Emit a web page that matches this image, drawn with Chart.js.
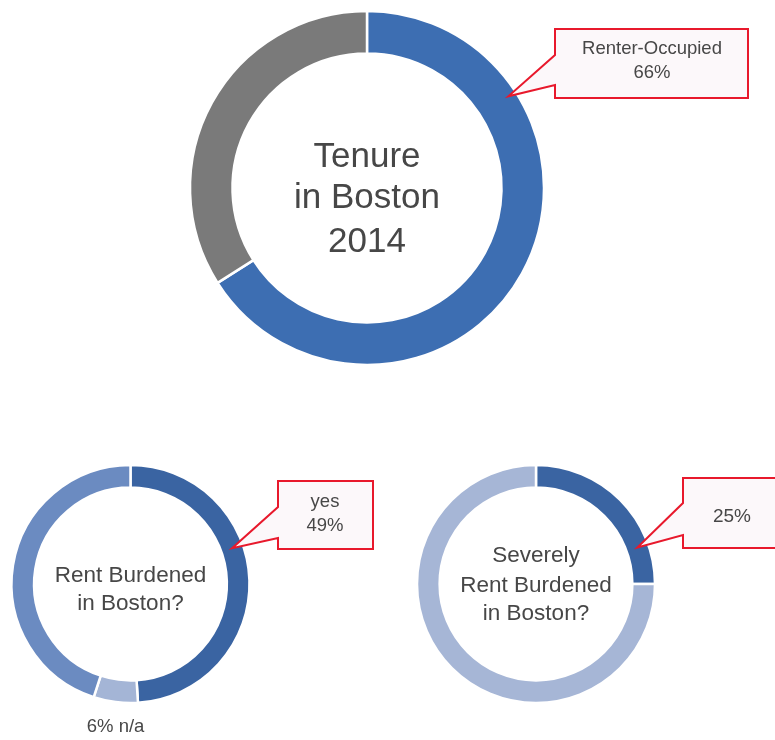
<!DOCTYPE html>
<html>
<head>
<meta charset="utf-8">
<script src="https://cdn.jsdelivr.net/npm/chart.js@4.4.0/dist/chart.umd.min.js"></script>
<style>
  body { margin: 0; background: #fff; }
  #wrap { position: relative; width: 775px; height: 740px; overflow: hidden; background: #fff; }
  #wrap canvas { position: absolute; left: 0; top: 0; }
</style>
</head>
<body>
<div id="wrap">
  <canvas id="c1" width="775" height="740"></canvas>
  <canvas id="c2" width="775" height="740"></canvas>
  <canvas id="c3" width="775" height="740"></canvas>
</div>
<script>
// ---- data ----
const tenureLabels = ['Renter-Occupied', 'Owner-Occupied'];
const tenureValues = [66, 34];
const tenureTitle = ['Tenure', 'in Boston', '2014'];

const burdenLabels = ['yes', 'n/a', 'no'];
const burdenValues = [49, 6, 45];
const burdenTitle = ['Rent Burdened', 'in Boston?'];

const severeLabels = ['yes', 'no'];
const severeValues = [25, 75];
const severeTitle = ['Severely', 'Rent Burdened', 'in Boston?'];

const FONT = '"Liberation Sans", Arial, Helvetica, sans-serif';
const TEXT = '#474747';

function arcPoint(arc, af, rf) {
  const a = arc.startAngle + af * (arc.endAngle - arc.startAngle);
  const r = arc.innerRadius + rf * (arc.outerRadius - arc.innerRadius);
  return { x: arc.x + Math.cos(a) * r, y: arc.y + Math.sin(a) * r };
}

const decor = {
  id: 'decor',
  afterDraw(chart, args, opts) {
    const ctx = chart.ctx;
    const arcs = chart.getDatasetMeta(0).data;
    const cx = arcs[0].x, cy = arcs[0].y;
    ctx.save();
    // centre title
    ctx.fillStyle = TEXT;
    ctx.textAlign = 'center';
    ctx.textBaseline = 'alphabetic';
    ctx.font = opts.titleSize + 'px ' + FONT;
    opts.title.forEach((t, i) => ctx.fillText(t, cx, cy + opts.titleY[i]));
    // callout
    const c = opts.callout;
    if (c) {
      const tip = arcPoint(arcs[c.index], c.af, c.rf);
      const [bx, by, bw, bh] = c.box;
      ctx.beginPath();
      ctx.moveTo(bx, by);
      ctx.lineTo(bx + bw, by);
      ctx.lineTo(bx + bw, by + bh);
      ctx.lineTo(bx, by + bh);
      ctx.lineTo(bx, c.notch[1]);
      ctx.lineTo(tip.x, tip.y);
      ctx.lineTo(bx, c.notch[0]);
      ctx.closePath();
      ctx.fillStyle = '#fcf8fa';
      ctx.fill();
      ctx.strokeStyle = '#e8192c';
      ctx.lineWidth = 2;
      ctx.lineJoin = 'miter';
      ctx.stroke();
      ctx.fillStyle = TEXT;
      ctx.font = c.size + 'px ' + FONT;
      c.lines.forEach((t, i) => ctx.fillText(t, c.tx, c.ty[i]));
    }
    // outside label
    const o = opts.outside;
    if (o) {
      const arc = arcs[o.index];
      const mid = (arc.startAngle + arc.endAngle) / 2;
      const x = arc.x + Math.cos(mid) * arc.outerRadius;
      const y = arc.y + Math.sin(mid) * arc.outerRadius;
      ctx.fillStyle = TEXT;
      ctx.font = o.size + 'px ' + FONT;
      ctx.fillText(o.text, x, y + o.dy);
    }
    ctx.restore();
  }
};

function makeDoughnut(id, labels, values, colors, cx, cy, radius, cutout, decorOpts) {
  const W = 775, H = 740;
  return new Chart(document.getElementById(id), {
    type: 'doughnut',
    data: {
      labels: labels,
      datasets: [{
        data: values,
        backgroundColor: colors,
        borderColor: '#ffffff',
        borderWidth: 2.5,
        hoverOffset: 0
      }]
    },
    options: {
      responsive: false,
      animation: false,
      events: [],
      radius: radius,
      cutout: cutout,
      layout: {
        padding: {
          left: cx - radius - 2,
          right: W - (cx + radius + 2),
          top: cy - radius - 2,
          bottom: H - (cy + radius + 2)
        }
      },
      plugins: {
        legend: { display: false },
        tooltip: { enabled: false },
        decor: decorOpts
      }
    },
    plugins: [decor]
  });
}

makeDoughnut('c1', tenureLabels, tenureValues, ['#3d6eb2', '#7a7a7a'],
  367, 188, 177, '76%', {
    title: tenureTitle, titleSize: 35, titleY: [-21, 20, 64],
    callout: {
      index: 0, af: 0.24, rf: 0.8,
      box: [555, 29, 193, 69], notch: [55, 85],
      lines: [tenureLabels[0], tenureValues[0] + '%'],
      tx: 652, ty: [54, 78], size: 18.5
    }
  });

makeDoughnut('c2', burdenLabels, burdenValues, ['#3a64a2', '#a4b5d6', '#6b8bc1'],
  130.5, 584, 119, '81%', {
    title: burdenTitle, titleSize: 22.5, titleY: [-2, 26],
    callout: {
      index: 0, af: 0.40, rf: 0.5,
      box: [278, 481, 95, 68], notch: [507, 538],
      lines: [burdenLabels[0], burdenValues[0] + '%'],
      tx: 325, ty: [507, 531], size: 18.5
    },
    outside: { index: 1, text: burdenValues[1] + '% ' + burdenLabels[1], size: 18.5, dy: 30 }
  });

makeDoughnut('c3', severeLabels, severeValues, ['#3a64a2', '#a6b6d6'],
  536, 584, 119, '81%', {
    title: severeTitle, titleSize: 22.5, titleY: [-22, 8, 36],
    callout: {
      index: 0, af: 0.78, rf: 0.5,
      box: [683, 478, 120, 70], notch: [503, 535],
      lines: [severeValues[0] + '%'],
      tx: 732, ty: [522], size: 19
    }
  });
</script>
</body>
</html>
